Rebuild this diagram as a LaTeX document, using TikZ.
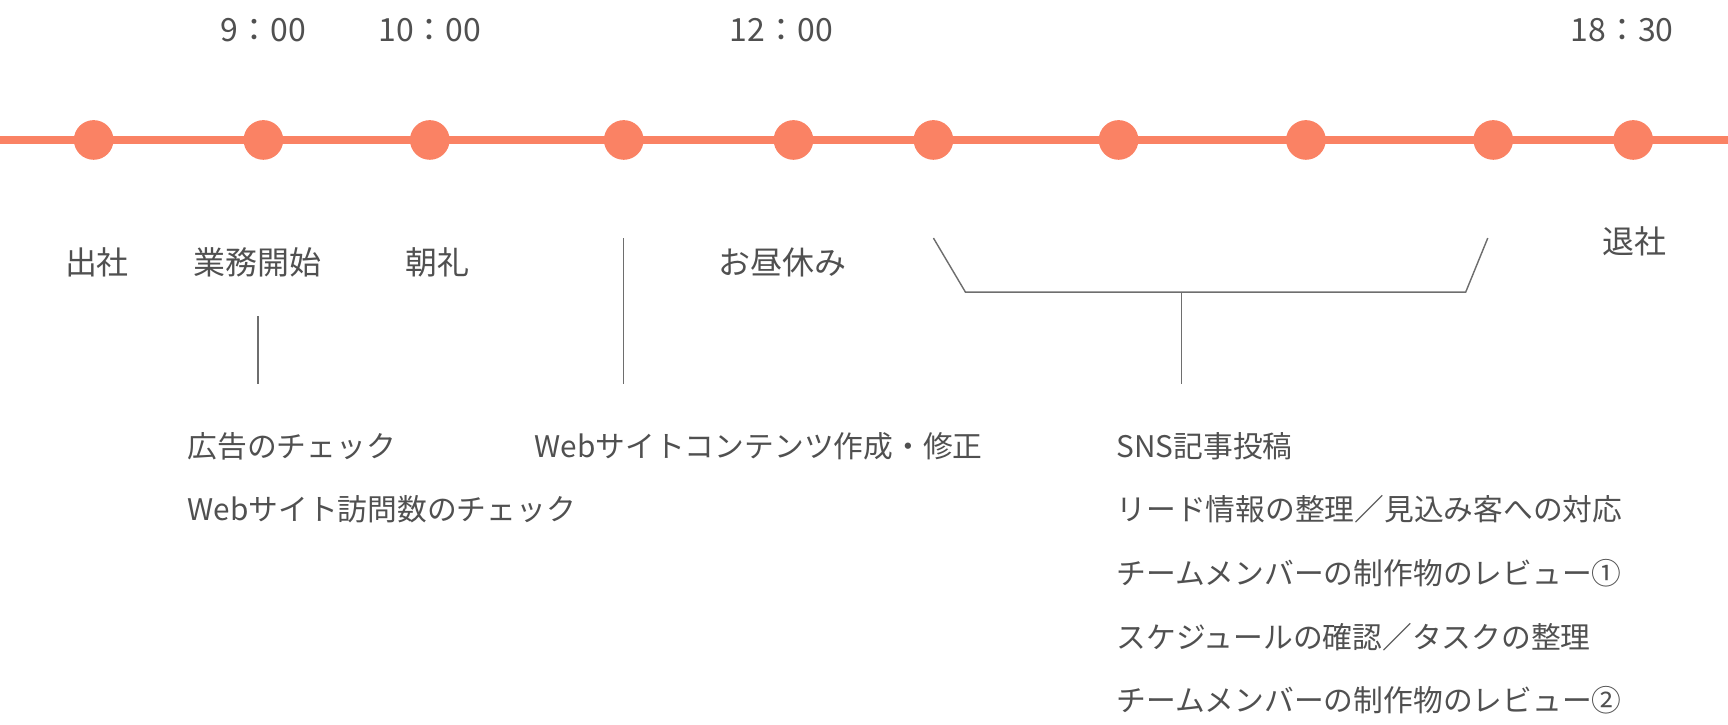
\documentclass[tikz,border=0pt]{standalone}
\usepackage{fontspec}
\setmainfont{Noto Sans CJK JP}
\definecolor{salmon}{HTML}{FA8264}
\definecolor{txt}{HTML}{505050}
\definecolor{ln}{HTML}{6E6E6E}
\begin{document}
\begin{tikzpicture}[x=1pt,y=-1pt,
  dot/.style={circle,fill=salmon,minimum size=36pt,inner sep=0pt},
  big/.style={text=txt,font=\fontsize{29}{30}\selectfont,inner sep=0pt},
  small/.style={text=txt,font=\fontsize{27}{28}\selectfont,inner sep=0pt,anchor=west},
  conn/.style={draw=ln,line width=1.3pt}]
\useasboundingbox (0,0) rectangle (1568,657);
\coordinate (L) at (0,127); \coordinate (R) at (1568,127);
\draw[salmon,line width=8pt] (L) -- (R);
\foreach \i/\x in {1/85,2/239,3/390,4/566,5/720,6/847,7/1015,8/1185,9/1355,10/1482}
  \node[dot] (d\i) at (\x,127) {};
\node[big] (t1) at (239,27) {9：00};
\node[big] (t2) at (390,27) {10：00};
\node[big] (t3) at (709,27) {12：00};
\node[big] (t4) at (1472,27) {18：30};
\node[big] (a1) at (88,238) {出社};
\node[big] (a2) at (234,238) {業務開始};
\node[big] (a3) at (397,238) {朝礼};
\node[big] (a4) at (710,238) {お昼休み};
\node[big] (a5) at (1483,219) {退社};
\coordinate (p1) at (234,287); \coordinate (p2) at (234,348);
\coordinate (q1) at (566,216); \coordinate (q2) at (566,348);
\coordinate (b1) at (847,216); \coordinate (b2) at (876,265);
\coordinate (b3) at (1330,265); \coordinate (b4) at (1350,216);
\coordinate (s1) at (1072,265); \coordinate (s2) at (1072,348);
\draw[conn] (p1) -- (p2);
\draw[conn] (q1) -- (q2);
\draw[conn] (b1) -- (b2) -- (b3) -- (b4);
\draw[conn] (s1) -- (s2);
\node[small] (k1) at (170,405) {広告のチェック};
\node[small] (k2) at (170,462) {Webサイト訪問数のチェック};
\node[small] (k3) at (485,405) {Webサイトコンテンツ作成・修正};
\node[small] (m1) at (1013,405) {SNS記事投稿};
\node[small] (m2) at (1013,462) {リード情報の整理／見込み客への対応};
\node[small] (m3) at (1013,520) {チームメンバーの制作物のレビュー①};
\node[small] (m4) at (1013,578) {スケジュールの確認／タスクの整理};
\node[small] (m5) at (1013,635) {チームメンバーの制作物のレビュー②};
\end{tikzpicture}
\end{document}
